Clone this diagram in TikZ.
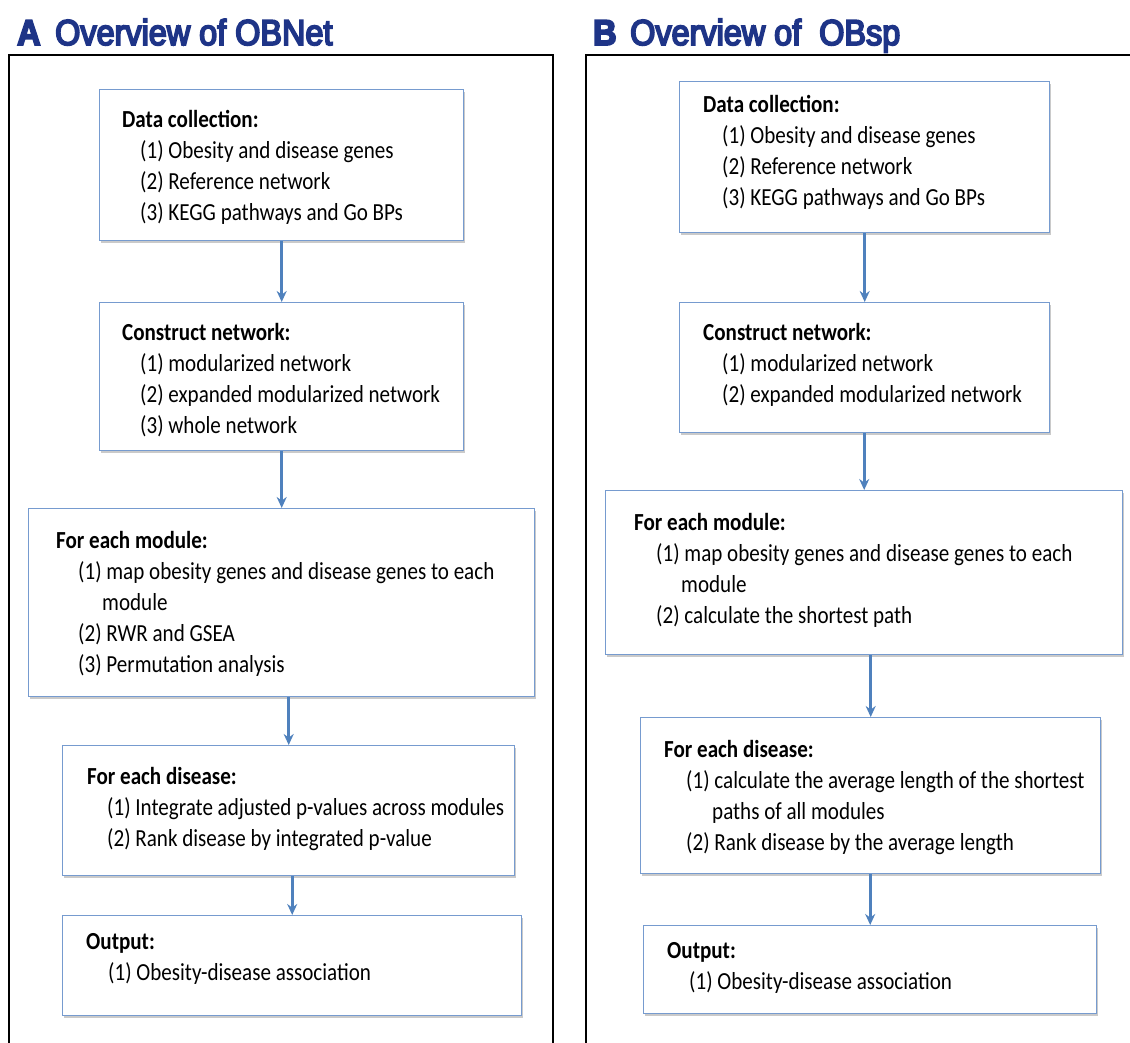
\documentclass[tikz,border=0pt]{standalone}
\usepackage{fontspec}
\setmainfont{Carlito}
\newfontfamily\stepfont{Carlito}[FakeStretch=0.86]
\newfontfamily\titlefont{Liberation Sans}[FakeStretch=0.9,FakeBold=5]
\usetikzlibrary{positioning}
\usetikzlibrary{arrows.meta}
\usetikzlibrary{shadows}
\definecolor{boxblue}{RGB}{118,155,207}
\definecolor{arrowblue}{RGB}{79,129,189}
\definecolor{titleblue}{RGB}{30,52,135}
\tikzset{
	stepbox/.style={draw=boxblue,line width=1.4pt,fill=white,anchor=north west,inner sep=0pt,
		drop shadow={shadow xshift=1.5pt,shadow yshift=-2pt,opacity=0.35,fill=black!60}},
	steptext/.style={anchor=north west,align=left,inner sep=0pt,font=\stepfont\fontsize{24.5}{31}\selectfont},
	flow/.style={draw=arrowblue,line width=2.6pt,-{Stealth[length=11pt,width=10pt]}},
	panel/.style={line width=2.8pt,black},
	paneltitle/.style={anchor=base west,inner sep=0pt,text=titleblue,font=\titlefont\fontsize{36}{40}\selectfont},
}

\begin{document}
\begin{tikzpicture}[x=1pt,y=-1pt]
	\useasboundingbox (0,0) rectangle (1130,1043);
	
	% panel titles..................
	\node [paneltitle] (letA) at (17,45) {\bfseries A};
	\node [paneltitle] (titleA) at (55,45) {Overview of OBNet};
	\node [paneltitle] (letB) at (593,45) {\bfseries B};
	\node [paneltitle] (titleB) at (630,45) {Overview of\ \ OBsp};
	
	% panel frames..................
	\draw [panel] (9,1045) -- (9,55) -- (553,55) -- (553,1045);
	\draw [panel] (586,1045) -- (586,55) -- (1132,55);
	
	% OBNet boxes...................
	\node [stepbox,minimum width=364pt,minimum height=151pt] (dataA) at (99,89) {};
	\node [steptext] (dataAtext) at ([shift={(23,21)}]dataA.north west)
		{\textbf{Data collection:}\\
		\hspace*{18pt}(1) Obesity and disease genes\\
		\hspace*{18pt}(2) Reference network\\
		\hspace*{18pt}(3) KEGG pathways and Go BPs};
	
	\node [stepbox,minimum width=364pt,minimum height=148pt] (netA) at (99,302) {};
	\node [steptext] (netAtext) at ([shift={(23,21)}]netA.north west)
		{\textbf{Construct network:}\\
		\hspace*{18pt}(1) modularized network\\
		\hspace*{18pt}(2) expanded modularized network\\
		\hspace*{18pt}(3) whole network};
	
	\node [stepbox,minimum width=506pt,minimum height=188pt] (modA) at (28,508) {};
	\node [steptext] (modAtext) at ([shift={(28,23)}]modA.north west)
		{\textbf{For each module:}\\
		\hspace*{22pt}(1) map obesity genes and disease genes to each\\
		\hspace*{46pt}module\\
		\hspace*{22pt}(2) RWR and GSEA\\
		\hspace*{22pt}(3) Permutation analysis};
	
	\node [stepbox,minimum width=452pt,minimum height=130pt] (disA) at (62,745) {};
	\node [steptext] (disAtext) at ([shift={(25,22)}]disA.north west)
		{\textbf{For each disease:}\\
		\hspace*{20pt}(1) Integrate adjusted p-values across modules\\
		\hspace*{20pt}(2) Rank disease by integrated p-value};
	
	\node [stepbox,minimum width=459pt,minimum height=100pt] (outA) at (62,915) {};
	\node [steptext] (outAtext) at ([shift={(24,18)}]outA.north west)
		{\textbf{Output:}\\
		\hspace*{22pt}(1) Obesity-disease association};
	
	% OBsp boxes....................
	\node [stepbox,minimum width=370pt,minimum height=151pt] (dataB) at (679,81) {};
	\node [steptext] (dataBtext) at ([shift={(24,14)}]dataB.north west)
		{\textbf{Data collection:}\\
		\hspace*{19pt}(1) Obesity and disease genes\\
		\hspace*{19pt}(2) Reference network\\
		\hspace*{19pt}(3) KEGG pathways and Go BPs};
	
	\node [stepbox,minimum width=370pt,minimum height=130pt] (netB) at (679,302) {};
	\node [steptext] (netBtext) at ([shift={(24,21)}]netB.north west)
		{\textbf{Construct network:}\\
		\hspace*{19pt}(1) modularized network\\
		\hspace*{19pt}(2) expanded modularized network};
	
	\node [stepbox,minimum width=517pt,minimum height=164pt] (modB) at (605,490) {};
	\node [steptext] (modBtext) at ([shift={(29,23)}]modB.north west)
		{\textbf{For each module:}\\
		\hspace*{22pt}(1) map obesity genes and disease genes to each\\
		\hspace*{47pt}module\\
		\hspace*{22pt}(2) calculate the shortest path};
	
	\node [stepbox,minimum width=460pt,minimum height=156pt] (disB) at (640,717) {};
	\node [steptext] (disBtext) at ([shift={(24,23)}]disB.north west)
		{\textbf{For each disease:}\\
		\hspace*{22pt}(1) calculate the average length of the shortest\\
		\hspace*{48pt}paths of all modules\\
		\hspace*{22pt}(2) Rank disease by the average length};
	
	\node [stepbox,minimum width=453pt,minimum height=88pt] (outB) at (643,925) {};
	\node [steptext] (outBtext) at ([shift={(24,17)}]outB.north west)
		{\textbf{Output:}\\
		\hspace*{22pt}(1) Obesity-disease association};
	
	% arrows........................
	\draw [flow] (dataA.south -| netA.north) -- (netA.north);
	\draw [flow] (netA.south -| modA.north) -- (modA.north);
	\draw [flow] (modA.south -| disA.north) -- (disA.north);
	\draw [flow] (disA.south -| outA.north) -- (outA.north);
	\draw [flow] (dataB.south -| netB.north) -- (netB.north);
	\draw [flow] (netB.south -| modB.north) -- (modB.north);
	\draw [flow] (modB.south -| disB.north) -- (disB.north);
	\draw [flow] (disB.south -| outB.north) -- (outB.north);
	
\end{tikzpicture}
\end{document}
